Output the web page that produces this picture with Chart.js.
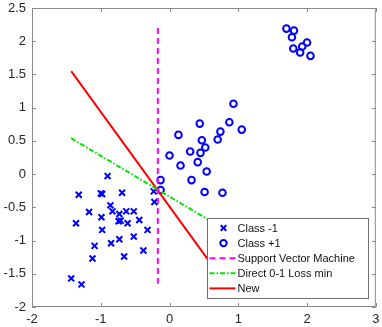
<!DOCTYPE html>
<html>
<head>
<meta charset="utf-8">
<script src="https://cdn.jsdelivr.net/npm/chart.js@4/dist/chart.umd.min.js"></script>
<style>
    body { margin: 0; background: #fff; }
    #wrap { width: 382px; height: 327px; position: relative; }
</style>
</head>
<body>
<div id="wrap"><canvas id="plotCanvas"></canvas></div>
<script>
// Class -1 samples (x markers)
const negX = [-0.90, -1.32, -1.00, -0.98, -0.69, -0.86, -1.17, -0.83, -0.73, -0.63, -0.52, -0.99, -0.74, -0.71, -0.61,
    -0.44, -1.36, -0.98, -0.32, -0.52, -0.73, -0.85, -1.09, -0.38, -0.66, -1.12, -1.43, -1.28, -0.22, -0.23];
const negY = [-0.03, -0.31, -0.29, -0.30, -0.28, -0.47, -0.57, -0.56, -0.60, -0.56, -0.56, -0.65, -0.71, -0.70, -0.74,
    -0.69, -0.74, -0.84, -0.84, -0.94, -0.98, -1.04, -1.08, -1.15, -1.24, -1.27, -1.57, -1.66, -0.42, -0.26];

// Class +1 samples (circles)
const posX = [0.93, 0.44, 0.87, 1.05, 0.74, 0.13, 0.47, 0.70, 0.52, 0.30, 0.45, 0.00, 0.41, 0.16, 0.54, 0.32, -0.13, -0.13,
    0.51, 0.77, 1.70, 1.81, 1.78, 2.00, 1.93, 1.80, 1.90, 2.05];
const posY = [1.06, 0.76, 0.78, 0.67, 0.64, 0.59, 0.51, 0.52, 0.40, 0.34, 0.32, 0.28, 0.18, 0.13, 0.04, -0.09, -0.09, -0.24,
    -0.27, -0.28, 2.19, 2.16, 2.06, 1.98, 1.92, 1.89, 1.83, 1.78];

// decision boundaries
const svmX = [-0.17, -0.17];
const svmY = [2.2, -1.65];
const directX = [-1.43, 0.8];
const directY = [0.54, -0.83];
const newX = [-1.43, 0.8];
const newY = [1.55, -1.63];

const xTicks = [-2, -1, 0, 1, 2, 3];
const yTicks = [-2, -1.5, -1, -0.5, 0, 0.5, 1, 1.5, 2, 2.5];

const seriesNames = ['Class -1', 'Class +1', 'Support Vector Machine', 'Direct 0-1 Loss min', 'New'];

const toPoints = (xs, ys) => xs.map((v, i) => ({ x: v, y: ys[i] }));

const boxColor = '#8a8a8a';

// box, inward tick marks and the opaque legend, MATLAB style
const matlabFrame = {
    id: 'matlabFrame',
    afterDatasetsDraw(chart) {
        const ctx = chart.ctx;
        const a = chart.chartArea;
        const xs = chart.scales.x;
        const ys = chart.scales.y;
        ctx.save();
        ctx.strokeStyle = boxColor;
        ctx.lineWidth = 1;
        ctx.strokeRect(a.left + 0.5, a.top + 0.5, a.right - a.left - 1, a.bottom - a.top - 1);
        const tl = 4;
        ctx.beginPath();
        xTicks.forEach(v => {
            const px = Math.round(xs.getPixelForValue(v)) + 0.5;
            ctx.moveTo(px, a.bottom); ctx.lineTo(px, a.bottom - tl);
            ctx.moveTo(px, a.top); ctx.lineTo(px, a.top + tl);
        });
        yTicks.forEach(v => {
            const py = Math.round(ys.getPixelForValue(v)) + 0.5;
            ctx.moveTo(a.left, py); ctx.lineTo(a.left + tl, py);
            ctx.moveTo(a.right, py); ctx.lineTo(a.right - tl, py);
        });
        ctx.stroke();

        // legend
        const w = 161, h = 80;
        const lx = Math.round(a.right - 8 - w) + 0.5;
        const ly = Math.round(a.bottom - 9 - h) + 0.5;
        ctx.fillStyle = '#fff';
        ctx.fillRect(lx, ly, w, h);
        ctx.strokeStyle = '#6e6e6e';
        ctx.strokeRect(lx, ly, w, h);
        ctx.font = '11px "Liberation Sans", Arial, sans-serif';
        ctx.textBaseline = 'middle';
        chart.data.datasets.forEach((ds, i) => {
            const cy = ly + 9.5 + i * 15.1;
            const cx = lx + 16;
            ctx.strokeStyle = ds.borderColor;
            ctx.lineWidth = 2;
            ctx.setLineDash([]);
            if (ds.pointStyle === 'crossRot') {
                const r = 2.8;
                ctx.beginPath();
                ctx.moveTo(cx - r, cy - r); ctx.lineTo(cx + r, cy + r);
                ctx.moveTo(cx + r, cy - r); ctx.lineTo(cx - r, cy + r);
                ctx.stroke();
            } else if (ds.pointStyle === 'circle' && !ds.showLine) {
                ctx.beginPath();
                ctx.arc(cx, cy, 3.2, 0, Math.PI * 2);
                ctx.stroke();
            } else {
                ctx.setLineDash(ds.borderDash || []);
                ctx.beginPath();
                ctx.moveTo(lx + 2, cy); ctx.lineTo(lx + 28, cy);
                ctx.stroke();
                ctx.setLineDash([]);
            }
            ctx.fillStyle = '#111';
            ctx.fillText(ds.label, lx + 30, cy + 0.5);
        });
        ctx.restore();
    }
};

const lineSet = (label, xs, ys, color, dash) => ({
    label: label,
    data: toPoints(xs, ys),
    showLine: true,
    borderColor: color,
    backgroundColor: color,
    borderWidth: 2,
    borderDash: dash,
    pointRadius: 0,
    pointStyle: 'line',
    order: 0
});

const tickFont = { family: '"Liberation Sans", Arial, sans-serif', size: 13 };

new Chart(document.getElementById('plotCanvas'), {
    type: 'scatter',
    data: {
        datasets: [
            {
                label: seriesNames[0],
                data: toPoints(negX, negY),
                pointStyle: 'crossRot',
                pointRadius: 4.2,
                borderColor: '#0000ff',
                backgroundColor: '#0000ff',
                borderWidth: 2,
                order: 1
            },
            {
                label: seriesNames[1],
                data: toPoints(posX, posY),
                pointStyle: 'circle',
                pointRadius: 3.3,
                borderColor: '#0000ff',
                backgroundColor: 'rgba(0,0,0,0)',
                borderWidth: 2,
                order: 1
            },
            lineSet(seriesNames[2], svmX, svmY, '#ff00ff', [6, 4]),
            lineSet(seriesNames[3], directX, directY, '#00e600', [5, 2, 1.5, 2]),
            lineSet(seriesNames[4], newX, newY, '#ff0000', [])
        ]
    },
    options: {
        responsive: true,
        maintainAspectRatio: false,
        animation: false,
        layout: { padding: { top: 8, right: 4, left: 0, bottom: 0 } },
        plugins: {
            legend: { display: false },
            tooltip: { enabled: false }
        },
        scales: {
            x: {
                type: 'linear',
                min: -2,
                max: 3,
                grid: { display: false, drawTicks: false },
                border: { display: false },
                afterFit: s => { s.height = 20; s.paddingLeft = 0; s.paddingRight = 0; },
                afterBuildTicks: s => { s.ticks = xTicks.map(v => ({ value: v })); },
                ticks: {
                    padding: 5,
                    maxRotation: 0,
                    minRotation: 0,
                    color: '#262626',
                    font: tickFont,
                    callback: v => String(v)
                }
            },
            y: {
                type: 'linear',
                min: -2,
                max: 2.5,
                grid: { display: false, drawTicks: false },
                border: { display: false },
                afterFit: s => { s.width = 32; s.paddingTop = 0; s.paddingBottom = 0; },
                afterBuildTicks: s => { s.ticks = yTicks.map(v => ({ value: v })); },
                ticks: {
                    padding: 6,
                    color: '#262626',
                    font: tickFont,
                    callback: v => String(v)
                }
            }
        }
    },
    plugins: [matlabFrame]
});
</script>
</body>
</html>
